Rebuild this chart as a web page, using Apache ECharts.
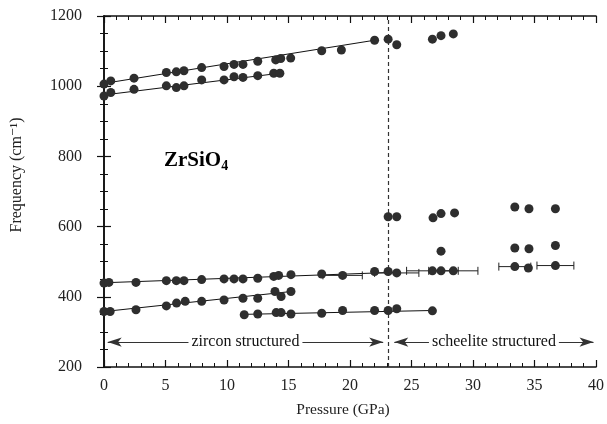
<!DOCTYPE html>
<html>
<head>
<meta charset="utf-8">
<script src="https://cdn.jsdelivr.net/npm/echarts@6/dist/echarts.min.js"></script>
<style>
  html, body { margin: 0; padding: 0; background: #fff; }
  #chart { width: 607px; height: 424px; }
</style>
</head>
<body>
<div id="chart"></div>
<script>
// ZrSiO4 Raman modes vs pressure

const xTicks = [0, 5, 10, 15, 20, 25, 30, 35, 40];
const yTicks = [200, 400, 600, 800, 1000, 1200];

// zircon structured modes (upper ~1010 branch continues past transition)
const modeAP = [0, 0.55, 2.44, 5.07, 5.88, 6.5, 7.94, 9.76, 10.57, 11.3, 12.5, 13.96, 14.37, 15.18, 17.7, 19.3, 22.0, 23.1, 23.8];
const modeAF = [1006, 1015, 1023, 1039, 1041, 1044, 1053, 1056, 1062, 1062, 1071, 1075, 1079, 1080, 1101, 1103, 1131, 1134, 1118];

const modeBP = [0, 0.55, 2.44, 5.07, 5.88, 6.5, 7.94, 9.76, 10.57, 11.3, 12.5, 13.8, 14.3];
const modeBF = [972, 982, 991, 1001, 996, 1001, 1018, 1018, 1027, 1025, 1030, 1037, 1037];

const modeCP = [0, 0.4, 2.6, 5.07, 5.88, 6.5, 7.94, 9.76, 10.57, 11.3, 12.5, 13.8, 14.2, 15.2, 17.7, 19.4, 22.0, 23.1, 23.8, 26.7, 27.4, 28.4];
const modeCF = [439, 441, 441, 446, 446, 446, 449, 451, 451, 451, 453, 458, 461, 463, 465, 461, 472, 472, 468, 474, 474, 474];

const modeDP = [0, 0.5, 2.6, 5.07, 5.9, 6.6, 7.94, 9.76, 11.3, 12.5, 13.9, 14.4, 15.2];
const modeDF = [358, 358, 363, 374, 382, 387, 387, 391, 396, 396, 415, 401, 415];

const modeEP = [11.4, 12.5, 14.0, 14.4, 15.2, 17.7, 19.4, 22.0, 23.1, 23.8, 26.7];
const modeEF = [349, 351, 355, 355, 351, 353, 361, 361, 361, 366, 360];

// scheelite structured modes
const schHighP = [26.7, 27.4, 28.4];
const schHighF = [1134, 1144, 1149];
const sch630P = [23.1, 23.8, 26.75, 27.4, 28.5];
const sch630F = [628, 628, 625, 637, 639];
const sch650P = [33.4, 34.55, 36.7];
const sch650F = [656, 651, 651];
const sch540P = [27.4, 33.4, 34.55, 36.7];
const sch540F = [530, 539, 537, 546];
const sch480P = [33.4, 34.5, 36.7];
const sch480F = [486, 482, 489];

// pressure error bars: [P, F, Plow, Phigh]
const errBars = [
  [19.4, 461, 17.8, 21.0],
  [23.8, 468, 22.0, 25.6],
  [26.7, 474, 24.6, 28.8],
  [28.4, 474, 26.4, 30.4],
  [33.4, 486, 32.1, 34.7],
  [36.7, 489, 35.2, 38.2]
];

// fitted lines (end points)
const fitA = [[0, 1008], [22.0, 1131]];
const fitB = [[0, 975], [14.3, 1037]];
const fitC = [[0, 440], [23.8, 470]];
const fitD = [[0, 358], [15.2, 415]];
const fitE = [[11.4, 350], [26.7, 361]];

const transitionP = 23.1;
const arrowF = 271;

const SERIF = "'Liberation Serif', 'DejaVu Serif', serif";
const DOT = "#2e2e2e";
const INK = "#111";

function pts(xs, ys) {
  return xs.map((x, i) => [x, ys[i]]);
}

function scatter(xs, ys) {
  return {
    type: "scatter",
    data: pts(xs, ys),
    symbolSize: 9,
    itemStyle: { color: DOT, opacity: 1 },
    z: 5,
    silent: true
  };
}

function fitLine(d) {
  return {
    type: "line",
    data: d,
    symbol: "none",
    lineStyle: { color: INK, width: 1 },
    z: 3,
    silent: true
  };
}

// common frame axis look (ticks pointing inward)
function frameAxis(extra) {
  return Object.assign({
    type: "value",
    axisLine: { show: true, lineStyle: { color: INK, width: 1.6 } },
    axisTick: { show: true, inside: true, length: 7, lineStyle: { color: INK, width: 1.2 } },
    splitLine: { show: false }
  }, extra);
}

const chart = echarts.init(document.getElementById("chart"));

chart.setOption({
  animation: false,
  backgroundColor: "#fff",
  grid: { left: 104, right: 10, top: 16, bottom: 57 },
  graphic: [
    {
      type: "text",
      left: 164,
      top: 150,
      style: {
        text: "{a|ZrSiO}{b|4}",
        rich: {
          a: { fontFamily: SERIF, fontWeight: "bold", fontSize: 21, color: INK },
          b: { fontFamily: SERIF, fontWeight: "bold", fontSize: 14, color: INK, padding: [12, 0, 0, 0] }
        }
      }
    },
    {
      type: "text",
      x: 17,
      y: 175,
      rotation: Math.PI / 2,
      style: {
        text: "Frequency (cm\u207B\u00B9)",
        fontFamily: SERIF,
        fontSize: 16,
        fill: "#222",
        align: "center",
        verticalAlign: "middle"
      }
    },
    {
      type: "text",
      x: 343,
      y: 410,
      style: {
        text: "Pressure (GPa)",
        fontFamily: SERIF,
        fontSize: 15.5,
        fill: "#222",
        align: "center",
        verticalAlign: "middle"
      }
    }
  ],
  xAxis: [
    frameAxis({
      position: "bottom",
      min: 0,
      max: 40,
      interval: 5,
      minorTick: { show: true, splitNumber: 5, length: 4, lineStyle: { color: INK } },
      axisLabel: { fontFamily: SERIF, fontSize: 16, color: "#222", margin: 11,
        formatter: (v) => (xTicks.includes(v) ? String(v) : "") }
    }),
    frameAxis({
      position: "top",
      min: 0,
      max: 40,
      interval: 5,
      minorTick: { show: true, splitNumber: 5, length: 4, lineStyle: { color: INK } },
      axisLabel: { show: false }
    })
  ],
  yAxis: [
    frameAxis({
      position: "left",
      min: 200,
      max: 1200,
      interval: 200,
      minorTick: { show: true, splitNumber: 4, length: 4, lineStyle: { color: INK } },
      axisLabel: { fontFamily: SERIF, fontSize: 16, color: "#222", margin: 22,
        formatter: (v) => (yTicks.includes(v) ? String(v) : "") }
    }),
    frameAxis({
      position: "right",
      min: 200,
      max: 1200,
      interval: 200,
      minorTick: { show: true, splitNumber: 4, length: 4, lineStyle: { color: INK } },
      axisLabel: { show: false }
    })
  ],
  series: [
    fitLine(fitA),
    fitLine(fitB),
    fitLine(fitC),
    fitLine(fitD),
    fitLine(fitE),
    {
      type: "custom",
      data: errBars,
      z: 4,
      silent: true,
      renderItem: (params, api) => {
        const y = api.value(1);
        const lo = api.coord([api.value(2), y]);
        const hi = api.coord([api.value(3), y]);
        const style = { stroke: "#222", lineWidth: 1 };
        return {
          type: "group",
          children: [
            { type: "line", shape: { x1: lo[0], y1: lo[1], x2: hi[0], y2: hi[1] }, style },
            { type: "line", shape: { x1: lo[0], y1: lo[1] - 4, x2: lo[0], y2: lo[1] + 4 }, style },
            { type: "line", shape: { x1: hi[0], y1: hi[1] - 4, x2: hi[0], y2: hi[1] + 4 }, style }
          ]
        };
      }
    },
    scatter(modeAP, modeAF),
    scatter(modeBP, modeBF),
    scatter(modeCP, modeCF),
    scatter(modeDP, modeDF),
    scatter(modeEP, modeEF),
    scatter(schHighP, schHighF),
    scatter(sch630P, sch630F),
    scatter(sch650P, sch650F),
    scatter(sch540P, sch540F),
    scatter(sch480P, sch480F),
    {
      type: "line",
      data: [],
      silent: true,
      markLine: {
        silent: true,
        animation: false,
        data: [
          [
            { coord: [transitionP, 200], symbol: "none" },
            { coord: [transitionP, 1200], symbol: "none",
              lineStyle: { type: [4, 3], color: "#333", width: 1.2 }, label: { show: false } }
          ],
          [
            { coord: [0.3, arrowF], symbol: "arrow" },
            { coord: [22.7, arrowF], symbol: "arrow",
              lineStyle: { type: "solid", color: "#333", width: 1 },
              label: { show: true, formatter: "zircon structured" } }
          ],
          [
            { coord: [23.6, arrowF], symbol: "arrow" },
            { coord: [39.8, arrowF], symbol: "arrow",
              lineStyle: { type: "solid", color: "#333", width: 1 },
              label: { show: true, formatter: "scheelite structured" } }
          ]
        ],
        symbolSize: [7, 14],
        lineStyle: { color: "#333", width: 1 },
        label: {
          show: true,
          position: "middle",
          distance: 0,
          fontFamily: SERIF,
          fontSize: 16,
          color: INK,
          backgroundColor: "#fff",
          padding: [0, 3],
          verticalAlign: "middle"
        }
      }
    }
  ]
});
</script>
</body>
</html>
